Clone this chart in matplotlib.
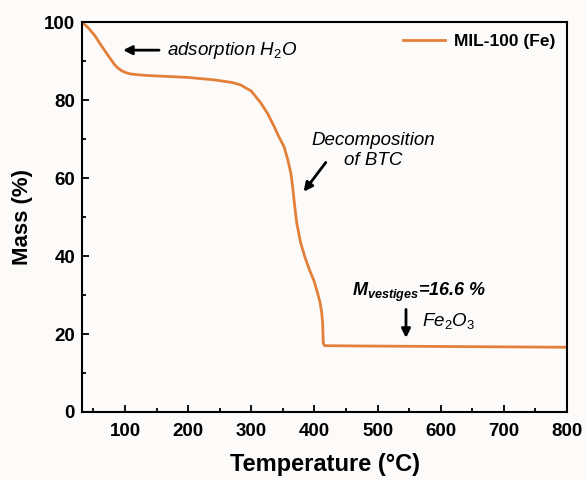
import numpy as np
import matplotlib.pyplot as plt
from matplotlib.ticker import MultipleLocator

plt.rcParams['font.family'] = ['Liberation Sans', 'DejaVu Sans']
plt.rcParams['mathtext.fontset'] = 'custom'
plt.rcParams['mathtext.rm'] = 'Liberation Sans'
plt.rcParams['mathtext.it'] = 'Liberation Sans:italic'
plt.rcParams['mathtext.bf'] = 'Liberation Sans:bold:italic'

# TGA curve of MIL-100 (Fe)
temperature = [32, 34, 42, 52, 62, 73, 83, 89, 95, 102, 109, 120, 136, 162,
               200, 240, 270, 283, 300, 315, 326, 336, 344, 352, 358, 363,
               366, 369, 372, 378, 385, 392, 399, 405, 409, 411.5, 413, 414,
               416, 500, 600, 700, 800]
mass = [100, 99.7, 98.5, 96.6, 94.1, 91.5, 89.2, 88.2, 87.5, 87.0, 86.7,
        86.5, 86.3, 86.1, 85.8, 85.2, 84.5, 83.9, 82.3, 79.3, 76.5, 73.3,
        70.5, 68, 64.6, 61, 57, 52.5, 48.5, 43.5, 39.7, 36.5, 33.8, 30.5, 28,
        25.5, 22.8, 17.7, 17.0, 16.9, 16.8, 16.7, 16.6]
residue = 16.6

bg = '#fcfbf9'
fig = plt.figure(figsize=(5.87, 4.8), dpi=100, facecolor=bg)
ax = fig.add_axes([0.1397, 0.1417, 0.8263, 0.8123])
ax.set_facecolor(bg)

ax.plot(temperature, mass, color='#E2803A', lw=2, label='MIL-100 (Fe)',
        solid_joinstyle='round')

ax.set_xlim(32, 800)
ax.set_ylim(0, 100)
ax.xaxis.set_major_locator(MultipleLocator(100))
ax.xaxis.set_minor_locator(MultipleLocator(50))
ax.yaxis.set_major_locator(MultipleLocator(20))
ax.yaxis.set_minor_locator(MultipleLocator(10))
ax.tick_params(which='both', direction='in', width=1.3, labelsize=13.5)
ax.tick_params(which='major', length=5)
ax.tick_params(which='minor', length=3)
ax.tick_params(axis='x', pad=8)
ax.tick_params(axis='y', pad=5)
for lab in ax.get_xticklabels() + ax.get_yticklabels():
    lab.set_fontweight('bold')
for s in ax.spines.values():
    s.set_linewidth(1.5)

ax.set_xlabel('Temperature (°C)', fontsize=17, fontweight='bold', labelpad=9)
ax.set_ylabel('Mass (%)', fontsize=16, fontweight='bold', labelpad=8)

leg = ax.legend(loc='upper right', frameon=False, fontsize=12.5,
                handlelength=2.4, handletextpad=0.5, borderaxespad=0.3)
for t in leg.get_texts():
    t.set_fontweight('bold')

arrow = dict(arrowstyle='-|>', color='black', lw=2, mutation_scale=13,
             shrinkA=0, shrinkB=0)

# annotations
ax.annotate('', xy=(97, 92.8), xytext=(154, 92.8), arrowprops=arrow)
ax.text(166, 92.8, 'adsorption H$_2$O', fontsize=13.5, style='italic',
        va='center', ha='left')

ax.text(493, 67, 'Decomposition\nof BTC', fontsize=13.5, style='italic',
        va='center', ha='center', linespacing=1.25)
ax.annotate('', xy=(383, 56.5), xytext=(418, 64), arrowprops=arrow)

ax.text(459, 30.6, r'$\mathbf{M_{vestiges}}$' + f'={residue} %', fontsize=13,
        fontweight='bold', style='italic', va='center', ha='left')
ax.annotate('', xy=(545, 19.0), xytext=(545, 26.3), arrowprops=arrow)
ax.text(571, 23.4, 'Fe$_2$O$_3$', fontsize=13.5, style='italic',
        va='center', ha='left')

fig.savefig('out.png', dpi=100, facecolor=bg)
